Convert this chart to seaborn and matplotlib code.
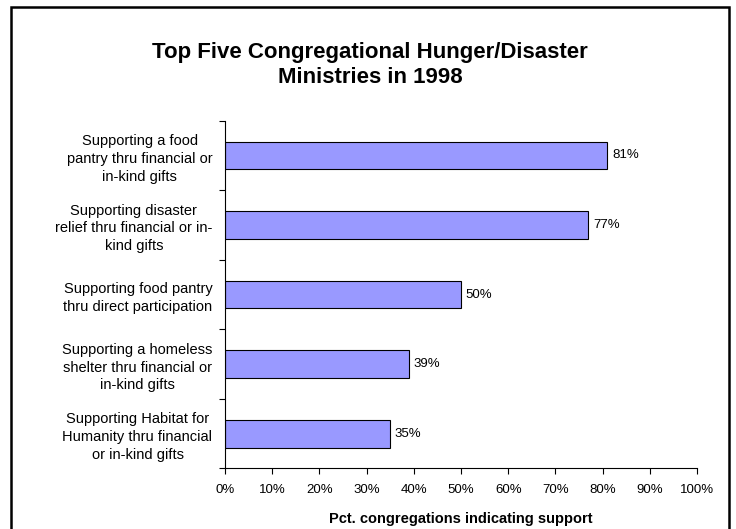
import numpy as np
import pandas as pd
import matplotlib
matplotlib.use('Agg')
import matplotlib.pyplot as plt
from matplotlib.patches import Rectangle
from matplotlib.ticker import FixedLocator, PercentFormatter
import seaborn as sns

# data
ministries = [
    'Supporting a food\npantry thru financial or\nin-kind gifts',
    'Supporting disaster\nrelief thru financial or in-\nkind gifts',
    'Supporting food pantry\nthru direct participation',
    'Supporting a homeless\nshelter thru financial or\nin-kind gifts',
    'Supporting Habitat for\nHumanity thru financial\nor in-kind gifts',
]
pct_support = [81, 77, 50, 39, 35]
x_ticks = [0, 10, 20, 30, 40, 50, 60, 70, 80, 90, 100]

df = pd.DataFrame({'ministry': ministries, 'pct': pct_support})

sns.set_style('white')
plt.rcParams['font.family'] = ['Liberation Sans', 'DejaVu Sans']
plt.rcParams['text.color'] = 'black'
plt.rcParams['axes.labelcolor'] = 'black'
plt.rcParams['xtick.color'] = 'black'
plt.rcParams['ytick.color'] = 'black'

fig = plt.figure(figsize=(7.36, 5.29), dpi=100)
ax = fig.add_axes([225 / 736, 1 - 468.4 / 529, (697 - 225) / 736, (468.4 - 120.7) / 529])

sns.barplot(data=df, x='pct', y='ministry', orient='h', color='#9999FF',
            saturation=1, width=0.4, edgecolor='black', linewidth=0.8, ax=ax)

# value labels
for i, v in enumerate(pct_support):
    ax.text(v + 1.0, i, f'{v}%', va='center', ha='left', fontsize=9.5)

ax.set_xlim(0, 100)
ax.set_ylim(len(ministries) - 0.5, -0.5)
ax.set_xticks(x_ticks)
ax.xaxis.set_major_formatter(PercentFormatter(decimals=0))
ax.tick_params(axis='x', direction='out', length=4, width=0.8, pad=7,
               labelsize=9.5, bottom=True)

# category labels centred, boundary ticks on the y axis
ax.set_yticks(range(len(ministries)))
ax.set_yticklabels(ministries, multialignment='center', fontsize=10.5,
                   linespacing=1.35)
ax.yaxis.set_minor_locator(FixedLocator(np.arange(-0.5, len(ministries), 1.0)))
ax.tick_params(axis='y', which='major', length=0, pad=9)
ax.tick_params(axis='y', which='minor', direction='out', length=4, width=0.8,
               left=True)

ax.set_ylabel('')
ax.set_xlabel('Pct. congregations indicating support', fontsize=10.5,
              fontweight='bold', labelpad=12)

for side in ['top', 'right']:
    ax.spines[side].set_visible(False)
for side in ['left', 'bottom']:
    ax.spines[side].set_color('black')
    ax.spines[side].set_linewidth(0.8)

fig.text(370 / 736, 1 - 65 / 529,
         'Top Five Congregational Hunger/Disaster\nMinistries in 1998',
         ha='center', va='center', fontsize=16, fontweight='bold',
         linespacing=1.2)

# frame around the chart area
fig.patches.append(Rectangle((11 / 736, -0.02), (729 - 11) / 736, 1.02 - 7 / 529,
                             transform=fig.transFigure, fill=False,
                             edgecolor='black', linewidth=1.8, clip_on=False))

fig.savefig('out.png', dpi=100)
